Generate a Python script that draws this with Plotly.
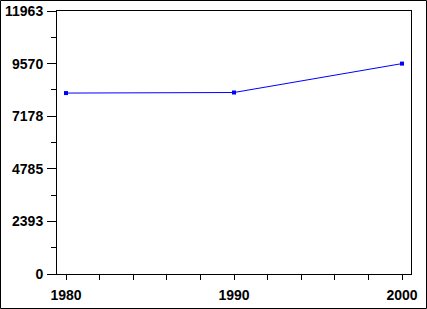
import plotly.graph_objects as go

years = [1980, 1990, 2000]
values = [8230, 8256, 9570]
y_tickvals = [0, 2393, 4785, 7178, 9570, 11963]
y_ticktext = ["0", "2393", "4785", "7178", "9570", "11963"]
x_tickvals = [1980, 1990, 2000]

W, H = 427, 309
L, R, T, B = 57, 16, 11, 35
pw, ph = W - L - R, H - T - B

fig = go.Figure()
fig.add_trace(go.Scatter(
    x=years, y=values, mode="lines+markers",
    line=dict(color="#0000ff", width=1),
    marker=dict(color="#0000ff", size=4, symbol="square"),
    showlegend=False,
))

font = dict(family="Liberation Sans, Arial, sans-serif", size=14, color="black", weight="bold")
fig.update_layout(
    width=W, height=H,
    margin=dict(l=L, r=R, t=T, b=B, pad=0, autoexpand=False),
    paper_bgcolor="white", plot_bgcolor="white",
    font=font,
    xaxis=dict(
        range=[1980 - 9 / 16.8, 2000 + 9 / 16.8],
        tickvals=x_tickvals, ticktext=[str(v) for v in x_tickvals],
        ticks="outside", ticklen=5, tickcolor="black", tickwidth=1,
        showline=True, linecolor="black", linewidth=1, mirror=True,
        showgrid=False, zeroline=False, automargin=False,
        ticklabelstandoff=3,
        minor=dict(ticks="outside", ticklen=5, tickcolor="black", dtick=2, tick0=1980, showgrid=False),
        tickfont=font,
    ),
    yaxis=dict(
        range=[0, 11963],
        tickvals=y_tickvals, ticktext=y_ticktext,
        ticks="outside", ticklen=9, tickcolor="black", tickwidth=1,
        showline=True, linecolor="black", linewidth=1, mirror=True,
        showgrid=False, zeroline=False, automargin=False,
        ticklabelstandoff=1,
        minor=dict(ticks="outside", ticklen=5, tickcolor="black", dtick=11963 / 10, tick0=0, showgrid=False),
        tickfont=font,
    ),
    shapes=[dict(
        type="rect", xref="paper", yref="paper",
        x0=(0.5 - L) / pw, x1=(W - 0.5 - L) / pw,
        y0=(H - B - (H - 0.5)) / ph, y1=(H - B - 0.5) / ph,
        line=dict(color="black", width=1), fillcolor="rgba(0,0,0,0)",
    )],
)

fig.write_html("out.html")
